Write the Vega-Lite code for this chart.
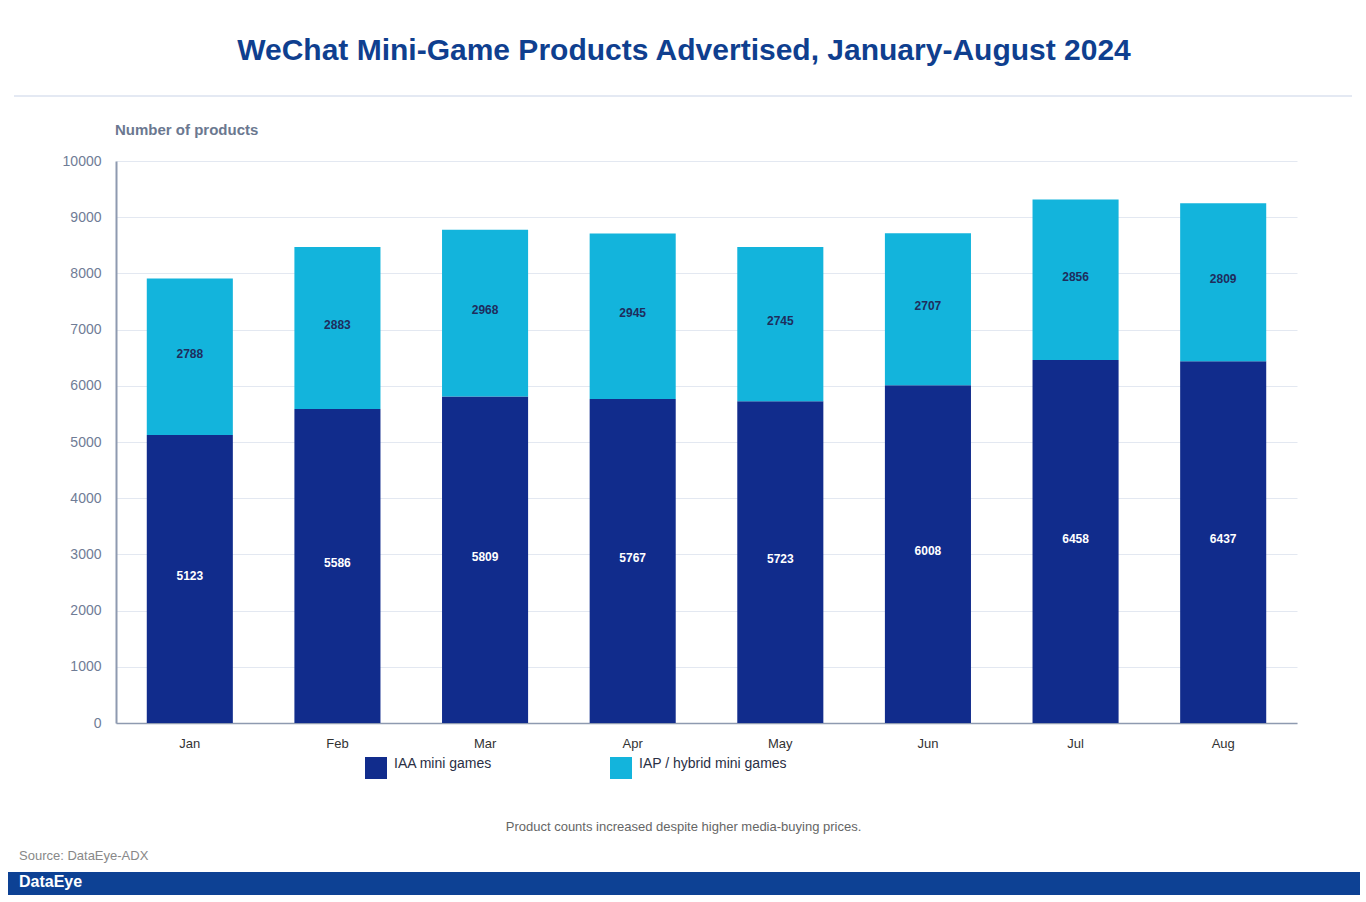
{
  "$schema": "https://vega.github.io/schema/vega-lite/v6.json",
  "background": "white",
  "padding": {"top": 36, "left": 8, "right": 6, "bottom": 7},
  "title": {
    "text": "WeChat Mini-Game Products Advertised, January-August 2024",
    "fontSize": 30,
    "fontWeight": "bold",
    "color": "#0f3f8f",
    "anchor": "middle",
    "offset": 29
  },
  "spacing": 16,
  "config": {
    "font": "Liberation Sans",
    "view": {"stroke": null}
  },
  "vconcat": [
    {
      "spacing": 0,
      "hconcat": [
        {
          "width": 6,
          "height": 2,
          "data": {"values": []},
          "mark": "text",
          "encoding": {}
        },
        {
          "width": 1338,
          "height": 2,
          "view": {"fill": "#e4e9f3", "stroke": null},
          "title": {
            "text": "Number of products",
            "orient": "bottom",
            "anchor": "start",
            "frame": "group",
            "dx": 101,
            "offset": 26,
            "fontSize": 15,
            "fontWeight": "bold",
            "color": "#6b7890"
          },
          "data": {"values": []},
          "mark": "text",
          "encoding": {}
        }
      ]
    },
    {
      "spacing": 0,
      "hconcat": [
        {
          "width": 1,
          "height": 1,
          "data": {"values": []},
          "mark": "text",
          "encoding": {}
        },
        {
          "width": 1181,
          "height": 562,
          "title": {
            "text": "Product counts increased despite higher media-buying prices.",
            "orient": "bottom",
            "anchor": "middle",
            "frame": "group",
            "dx": -23,
            "offset": 71,
            "fontSize": 13,
            "fontWeight": "normal",
            "color": "#666666"
          },
          "data": {
            "values": [
              {"month": "Jan", "type": "IAA mini games", "count": 5123},
              {"month": "Jan", "type": "IAP / hybrid mini games", "count": 2788},
              {"month": "Feb", "type": "IAA mini games", "count": 5586},
              {"month": "Feb", "type": "IAP / hybrid mini games", "count": 2883},
              {"month": "Mar", "type": "IAA mini games", "count": 5809},
              {"month": "Mar", "type": "IAP / hybrid mini games", "count": 2968},
              {"month": "Apr", "type": "IAA mini games", "count": 5767},
              {"month": "Apr", "type": "IAP / hybrid mini games", "count": 2945},
              {"month": "May", "type": "IAA mini games", "count": 5723},
              {"month": "May", "type": "IAP / hybrid mini games", "count": 2745},
              {"month": "Jun", "type": "IAA mini games", "count": 6008},
              {"month": "Jun", "type": "IAP / hybrid mini games", "count": 2707},
              {"month": "Jul", "type": "IAA mini games", "count": 6458},
              {"month": "Jul", "type": "IAP / hybrid mini games", "count": 2856},
              {"month": "Aug", "type": "IAA mini games", "count": 6437},
              {"month": "Aug", "type": "IAP / hybrid mini games", "count": 2809}
            ]
          },
          "transform": [
            {
              "stack": "count",
              "groupby": ["month"],
              "sort": [{"field": "type", "order": "ascending"}],
              "as": ["y0", "y1"]
            },
            {"calculate": "(datum.y0 + datum.y1) / 2", "as": "ymid"}
          ],
          "encoding": {
            "x": {
              "field": "month",
              "type": "nominal",
              "sort": ["Jan", "Feb", "Mar", "Apr", "May", "Jun", "Jul", "Aug"],
              "scale": {"paddingInner": 0.417, "paddingOuter": 0.2085},
              "axis": {
                "title": null,
                "labelAngle": 0,
                "ticks": false,
                "labelPadding": 14,
                "labelFontSize": 13,
                "labelColor": "#333333",
                "domainColor": "#8e9ab0",
                "domainWidth": 1.5,
                "grid": false
              }
            }
          },
          "layer": [
            {
              "mark": "bar",
              "encoding": {
                "y": {
                  "field": "y0",
                  "type": "quantitative",
                  "scale": {"domain": [0, 10000], "nice": false},
                  "axis": {
                    "title": null,
                    "format": "d",
                    "values": [0, 1000, 2000, 3000, 4000, 5000, 6000, 7000, 8000, 9000, 10000],
                    "ticks": false,
                    "labelPadding": 15,
                    "labelFontSize": 14,
                    "labelColor": "#6f7c96",
                    "domainColor": "#8e9ab0",
                    "domainWidth": 2,
                    "gridColor": "#e3e8f1",
                    "gridWidth": 1,
                    "minExtent": 107
                  }
                },
                "y2": {"field": "y1"},
                "color": {
                  "field": "type",
                  "type": "nominal",
                  "scale": {
                    "domain": ["IAA mini games", "IAP / hybrid mini games"],
                    "range": ["#112c8c", "#13b4dc"]
                  },
                  "legend": {
                    "title": null,
                    "orient": "none",
                    "direction": "horizontal",
                    "legendX": 357,
                    "legendY": 662,
                    "symbolType": "square",
                    "symbolSize": 484,
                    "symbolStrokeWidth": 0,
                    "symbolOpacity": 1,
                    "labelFontSize": 14,
                    "labelColor": "#2a2f45",
                    "labelOffset": 7,
                    "labelBaseline": "alphabetic",
                    "columnPadding": 117
                  }
                }
              }
            },
            {
              "mark": {"type": "text", "fontSize": 12, "fontWeight": "bold", "dy": -3},
              "encoding": {
                "y": {"field": "ymid", "type": "quantitative"},
                "text": {"field": "count", "type": "quantitative"},
                "color": {
                  "condition": {"test": "datum.type === 'IAA mini games'", "value": "#ffffff"},
                  "value": "#1f2d5c"
                }
              }
            }
          ]
        }
      ]
    },
    {
      "width": 1352,
      "height": 23,
      "view": {"fill": "#0d4194", "stroke": null},
      "title": {
        "text": "Source: DataEye-ADX",
        "subtitle": "DataEye",
        "orient": "top",
        "anchor": "start",
        "frame": "group",
        "dx": 11,
        "offset": -17.5,
        "fontSize": 13,
        "fontWeight": "normal",
        "color": "#888888",
        "subtitleFontSize": 16,
        "subtitleFontWeight": "bold",
        "subtitleColor": "#ffffff",
        "subtitlePadding": 10.5
      },
      "data": {"values": []},
      "mark": "text",
      "encoding": {}
    }
  ]
}
